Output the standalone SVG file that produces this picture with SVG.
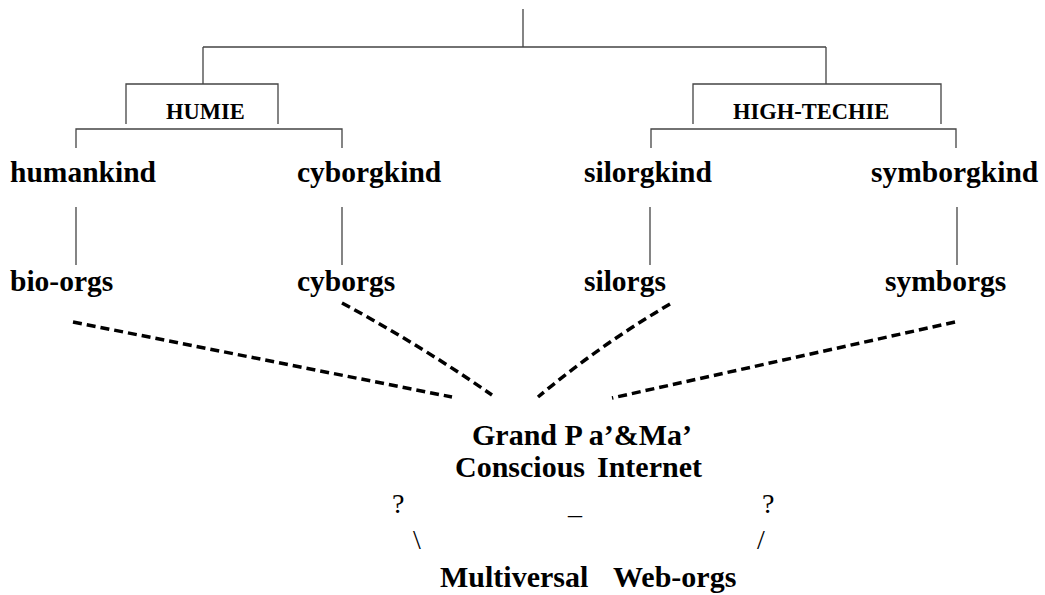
<svg xmlns="http://www.w3.org/2000/svg" width="1045" height="595" viewBox="0 0 1045 595">
<style>
.ln{stroke:#444;stroke-width:1.3;fill:none}
.dash{stroke:#000;stroke-width:3.5;fill:none;stroke-dasharray:9 5}
.t{font-family:"Liberation Serif","Times New Roman",serif;font-weight:bold;fill:#000}
.lg{font-size:29.5px}
.sm{font-size:22.5px}
.big{font-size:30px}
.r{font-family:"Liberation Serif","Times New Roman",serif;font-size:28px;fill:#000}
</style>
<rect width="1045" height="595" fill="#fff"/>
<g id="connectors">
<path class="ln" d="M523 9V47M203 47H826M203 47V84M826 47V84"/>
<path class="ln" d="M126 124V84H278V124"/>
<path class="ln" d="M693 124V84H941V124"/>
<path class="ln" d="M76 148V129H342V148"/>
<path class="ln" d="M651 148V129H956V148"/>
<path class="ln" d="M76 207V265M342 207V265M650 207V265M957 207V265"/>
<path class="dash" d="M73 322L452 397"/>
<path class="dash" d="M342 303Q420 345 492 395"/>
<path class="dash" d="M670 304Q600 345 538 397"/>
<path class="dash" d="M955 322L612 398"/>
</g>
<g id="humie"><text class="t sm" x="166" y="119">HUMIE</text></g>
<g id="hightechie"><text class="t sm" x="733" y="119">HIGH-TECHIE</text></g>
<g id="humankind"><text class="t lg" x="10" y="182">humankind</text></g>
<g id="cyborgkind"><text class="t lg" x="297" y="182">cyborgkind</text></g>
<g id="silorgkind"><text class="t lg" x="584" y="182">silorgkind</text></g>
<g id="symborgkind"><text class="t lg" x="871" y="182">symborgkind</text></g>
<g id="bio-orgs"><text class="t lg" x="10" y="291">bio-orgs</text></g>
<g id="cyborgs"><text class="t lg" x="297" y="291">cyborgs</text></g>
<g id="silorgs"><text class="t lg" x="584" y="291">silorgs</text></g>
<g id="symborgs"><text class="t lg" x="885" y="291">symborgs</text></g>
<g id="internet">
<text class="t big" x="472" y="445">Grand P a’&amp;Ma’</text>
<text class="t big" y="477"><tspan x="455">Conscious</tspan><tspan x="597">Internet</tspan></text>
</g>
<g id="marks">
<text class="r" x="392" y="513">?</text>
<text class="r" x="762" y="513">?</text>
<text class="r" x="568" y="514">_</text>
<text class="r" x="413" y="549">\</text>
<text class="r" x="757" y="549">/</text>
</g>
<g id="weborgs">
<text class="t big" y="587"><tspan x="440">Multiversal</tspan><tspan x="613">Web-orgs</tspan></text>
</g>
</svg>
